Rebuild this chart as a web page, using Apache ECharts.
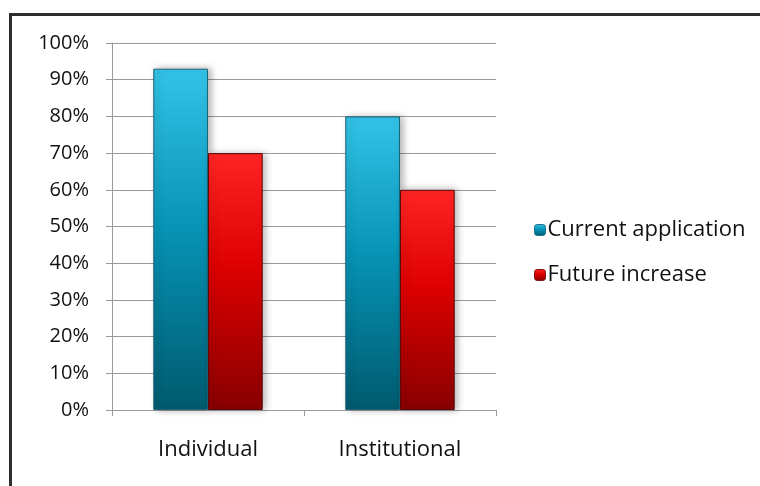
<!DOCTYPE html>
<html>
<head>
<meta charset="utf-8">
<script src="https://cdn.jsdelivr.net/npm/echarts@6/dist/echarts.min.js"></script>
<style>
html,body{margin:0;padding:0;background:#fff;}
#chart{width:760px;height:486px;}
</style>
</head>
<body>
<div id="chart"></div>
<script>
// Application of the approach, by type of user
const categories = ['Individual', 'Institutional'];
const currentApplication = [93, 80];
const futureIncrease = [70, 60];
const seriesNames = ['Current application', 'Future increase'];

const FONT = '"Open Sans", sans-serif';

function vGrad(top, mid, bottom) {
  return new echarts.graphic.LinearGradient(0, 0, 0, 1, [
    { offset: 0, color: top },
    { offset: 0.45, color: mid },
    { offset: 1, color: bottom }
  ]);
}

const blueFill = vGrad('#33c3e8', '#0795b8', '#005a6e');
const redFill = vGrad('#ff2424', '#dc0000', '#880000');

const chart = echarts.init(document.getElementById('chart'), null, { renderer: 'canvas' });

chart.setOption({
  animation: false,
  backgroundColor: '#fff',
  graphic: [{
    type: 'rect',
    shape: { x: 10.5, y: 14.5, width: 800, height: 520 },
    style: { fill: 'none', stroke: '#2e2e2e', lineWidth: 3 },
    z: 100
  }],
  grid: { left: 112, right: 264, top: 43, bottom: 76 },
  legend: {
    orient: 'vertical',
    left: 529,
    top: 214,
    itemWidth: 11,
    itemHeight: 11,
    itemGap: 23,
    textStyle: { fontFamily: FONT, fontSize: 22, color: '#111', padding: [0, 0, 0, -3] },
    data: [
      { name: seriesNames[0], itemStyle: { color: blueFill, borderColor: '#1f6f86', borderWidth: 1 } },
      { name: seriesNames[1], itemStyle: { color: redFill, borderColor: '#7a1010', borderWidth: 1 } }
    ]
  },
  xAxis: {
    type: 'category',
    data: categories,
    axisLine: { lineStyle: { color: '#9a9a9a', width: 1 } },
    axisTick: { show: true, length: 6, lineStyle: { color: '#9a9a9a' } },
    axisLabel: { fontFamily: FONT, fontSize: 22, color: '#111', margin: 29 }
  },
  yAxis: {
    type: 'value',
    min: 0,
    max: 100,
    interval: 10,
    axisLine: { show: true, lineStyle: { color: '#9a9a9a' } },
    axisTick: { show: true, length: 6, lineStyle: { color: '#9a9a9a' } },
    splitLine: { lineStyle: { color: '#9a9a9a', width: 1 } },
    axisLabel: { fontFamily: FONT, fontSize: 20, color: '#111', margin: 23, formatter: '{value}%' }
  },
  series: [
    {
      name: seriesNames[0],
      type: 'bar',
      data: currentApplication,
      barGap: '0%',
      barCategoryGap: '43%',
      itemStyle: {
        color: blueFill, borderColor: '#1d6378', borderWidth: 1,
        shadowColor: 'rgba(0,0,0,0.3)', shadowBlur: 7, shadowOffsetX: 3
      }
    },
    {
      name: seriesNames[1],
      type: 'bar',
      data: futureIncrease,
      itemStyle: {
        color: redFill, borderColor: '#5a0a0a', borderWidth: 1,
        shadowColor: 'rgba(0,0,0,0.3)', shadowBlur: 7, shadowOffsetX: 3
      }
    }
  ]
});
</script>
</body>
</html>
